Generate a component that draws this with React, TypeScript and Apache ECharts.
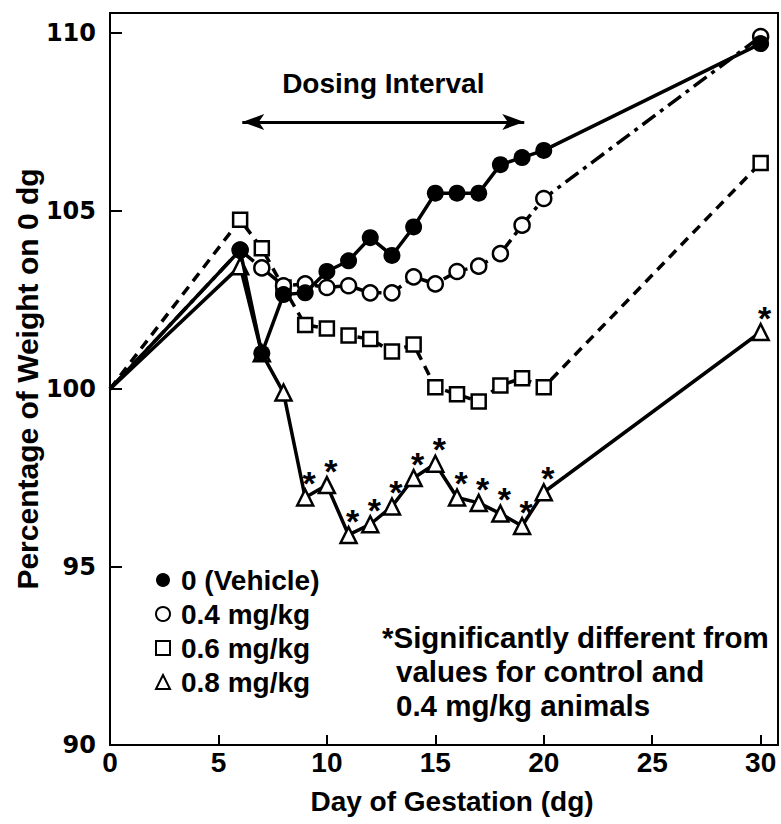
import React, { useEffect, useRef } from "react";
import * as echarts from "echarts";

const days = [0, 6, 7, 8, 9, 10, 11, 12, 13, 14, 15, 16, 17, 18, 19, 20, 30];
const vehicle = [100, 103.9, 101.0, 102.65, 102.7, 103.3, 103.6, 104.25, 103.75, 104.55, 105.5, 105.5, 105.5, 106.3, 106.5, 106.7, 109.7];
const dose04 = [100, 103.9, 103.4, 102.9, 102.95, 102.85, 102.9, 102.7, 102.7, 103.15, 102.95, 103.3, 103.45, 103.8, 104.6, 105.35, 109.9];
const dose06 = [100, 104.75, 103.95, 102.85, 101.8, 101.7, 101.5, 101.4, 101.05, 101.25, 100.05, 99.85, 99.65, 100.1, 100.3, 100.05, 106.35];
const dose08 = [100, 103.45, 101.0, 99.9, 96.95, 97.3, 95.9, 96.2, 96.7, 97.5, 97.9, 96.95, 96.8, 96.5, 96.15, 97.1, 101.6];
const significant = [false, false, false, false, true, true, true, true, true, true, true, true, true, true, true, true, true];
const seriesNames = ["0 (Vehicle)", "0.4 mg/kg", "0.6 mg/kg", "0.8 mg/kg"];
const dosingInterval = [6.1, 19.1];
const dosingArrowLevel = 107.5;
const xTicks = [0, 5, 10, 15, 20, 25, 30];
const yTicks = [90, 95, 100, 105, 110];
const xTitle = "Day of Gestation (dg)";
const yTitle = "Percentage of Weight on 0 dg";
const footnote = ["*Significantly different from", "values for control and", "0.4 mg/kg animals"];

const FONT = "'Liberation Sans', Arial, sans-serif";
const WIDE = "'DejaVu Sans', sans-serif";

function pts(vals: number[]) {
  return vals.map((v, i) =>
    i === 0 ? { value: [days[i], v], symbol: "none" } : { value: [days[i], v] }
  );
}

export default function App() {
  const ref = useRef<HTMLDivElement>(null);
  useEffect(() => {
    if (!ref.current) return;
    const chart = echarts.init(ref.current, undefined, { renderer: "svg" });
    const black = "#000";
    const open = { color: "#fff", borderColor: black, borderWidth: 2.5 };
    const txt = { fontFamily: FONT, fontWeight: "bold", fill: black };
    chart.setOption({
      animation: false,
      backgroundColor: "#fff",
      grid: { left: 110, right: 3, top: 13, bottom: 79, show: true, borderColor: black, borderWidth: 2 },
      xAxis: {
        type: "value",
        min: 0,
        max: 30.8,
        interval: 5,
        name: xTitle,
        nameLocation: "middle",
        nameGap: 42,
        nameTextStyle: { fontFamily: FONT, fontWeight: "bold", fontSize: 28, color: black, padding: [0, 0, 0, 16] },
        axisLine: { lineStyle: { color: black, width: 2 } },
        axisTick: { inside: true, length: 10, lineStyle: { color: black, width: 2 } },
        axisLabel: {
          margin: 3,
          fontFamily: FONT,
          fontWeight: "bold",
          fontSize: 28,
          color: black,
          formatter: (v: number) => (xTicks.includes(v) ? String(v) : ""),
        },
        splitLine: { show: false },
      },
      yAxis: {
        type: "value",
        min: 90,
        max: 110.56,
        interval: 5,
        axisLine: { lineStyle: { color: black, width: 2 } },
        axisTick: { inside: true, length: 12, lineStyle: { color: black, width: 2 } },
        axisLabel: {
          margin: 14,
          fontFamily: WIDE,
          fontWeight: "bold",
          fontSize: 24,
          color: black,
          formatter: (v: number) => (yTicks.includes(v) ? String(v) : ""),
        },
        splitLine: { show: false },
      },
      legend: {
        orient: "vertical",
        left: 150,
        top: 561,
        itemGap: 6,
        itemWidth: 14,
        itemHeight: 14,
        selectedMode: false,
        textStyle: { fontFamily: FONT, fontWeight: "bold", fontSize: 28, color: black, padding: [0, 0, 0, 6] },
        data: [
          { name: seriesNames[0], icon: "circle", itemStyle: { color: black, borderWidth: 0 } },
          { name: seriesNames[1], icon: "circle", itemStyle: { color: "#fff", borderColor: black, borderWidth: 2 } },
          { name: seriesNames[2], icon: "rect", itemStyle: { color: "#fff", borderColor: black, borderWidth: 2 } },
          { name: seriesNames[3], icon: "triangle", itemStyle: { color: "#fff", borderColor: black, borderWidth: 2 } },
        ],
      },
      graphic: [
        {
          type: "text",
          x: 27,
          y: 379,
          rotation: Math.PI / 2,
          style: { ...txt, text: yTitle, fontSize: 30, align: "center", verticalAlign: "middle" },
        },
        ...footnote.map((t, i) => ({
          type: "text",
          x: i === 0 ? 382 : 396,
          y: 637 + i * 34,
          style: { ...txt, text: t, fontSize: 29.5, verticalAlign: "middle" },
        })),
      ],
      series: [
        {
          name: seriesNames[3],
          type: "line",
          z: 2,
          data: pts(dose08),
          symbol: "triangle",
          symbolSize: 16,
          itemStyle: open,
          lineStyle: { color: black, width: 3.5 },
          label: {
            show: true,
            position: "top",
            distance: 0,
            offset: [4, 12],
            fontFamily: FONT,
            fontWeight: "bold",
            fontSize: 34,
            color: black,
            formatter: (p: any) => (significant[p.dataIndex] ? "*" : ""),
          },
        },
        {
          name: seriesNames[2],
          type: "line",
          z: 3,
          data: pts(dose06),
          symbol: "rect",
          symbolSize: 14,
          itemStyle: open,
          lineStyle: { color: black, width: 3.5, type: [10, 7] },
        },
        {
          name: seriesNames[1],
          type: "line",
          z: 4,
          data: pts(dose04),
          symbol: "circle",
          symbolSize: 15,
          itemStyle: open,
          lineStyle: { color: black, width: 3.5, type: [16, 6, 4, 6] },
        },
        {
          name: seriesNames[0],
          type: "line",
          z: 5,
          data: pts(vehicle),
          symbol: "circle",
          symbolSize: 17,
          itemStyle: { color: black },
          lineStyle: { color: black, width: 3.5 },
          markLine: {
            silent: true,
            symbol: ["arrow", "arrow"],
            symbolSize: [12, 22],
            lineStyle: { color: black, width: 3, type: "solid" },
            label: {
              show: true,
              position: "middle",
              distance: 24,
              formatter: "Dosing Interval",
              fontFamily: FONT,
              fontWeight: "bold",
              fontSize: 28,
              color: black,
            },
            data: [[{ coord: [dosingInterval[0], dosingArrowLevel] }, { coord: [dosingInterval[1], dosingArrowLevel] }]],
          },
        },
      ],
    });
    return () => chart.dispose();
  }, []);
  return <div ref={ref} style={{ position: "fixed", left: 0, top: 0, width: 781, height: 824 }} />;
}
